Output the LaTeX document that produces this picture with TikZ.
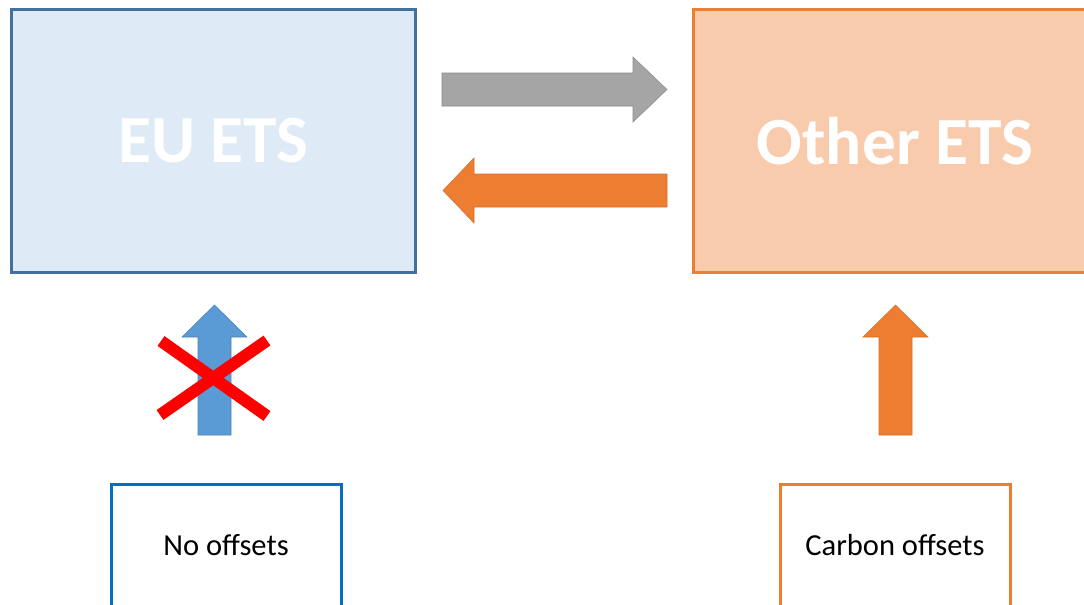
\documentclass[tikz,border=0pt]{standalone}
\usepackage{fontspec}
\setmainfont{Carlito}
\definecolor{eufill}{HTML}{DEEBF7}
\definecolor{euline}{HTML}{41719C}
\definecolor{orfill}{HTML}{F8CBAD}
\definecolor{orline}{HTML}{ED7D31}
\definecolor{grayarrow}{HTML}{A5A5A5}
\definecolor{bluearrow}{HTML}{5B9BD5}
\definecolor{offblue}{HTML}{0070C0}
\begin{document}
\begin{tikzpicture}[x=0.75pt,y=-0.75pt,
  bigbox/.style={rectangle,inner sep=0pt,line width=2.25pt,
    minimum width=404*0.75pt,minimum height=263*0.75pt,text=white,
    font=\bfseries\fontsize{50.6}{53}\selectfont},
  smallbox/.style={rectangle,inner sep=0pt,line width=2.25pt,fill=white,
    minimum width=230*0.75pt,minimum height=122*0.75pt,
    font=\fontsize{22.9}{25}\selectfont},
  blockarrow/.style={line width=0.4pt,line join=miter},
  crossline/.style={draw=red,line width=12*0.75pt}]
\useasboundingbox (0,0) rectangle (1084,604);
\fill[white] (0,0) rectangle (1084,604);
% main boxes
\node[bigbox,draw=euline,fill=eufill] (eu) at (213.5,141) {EU ETS};
\node[bigbox,draw=orline,fill=orfill] (oth) at (895,141) {Other ETS};
% lower boxes
\node[smallbox,draw=offblue] (nooff) at (226,545) {No offsets};
\node[smallbox,draw=orline] (carb) at (895,545) {Carbon offsets};
% horizontal block arrows
\filldraw[blockarrow,fill=grayarrow,draw=grayarrow!85!black]
  (442,73) -- (633,73) -- (633,57) -- (667,89.5) -- (633,122) -- (633,106) -- (442,106) -- cycle;
\filldraw[blockarrow,fill=orline,draw=orline!90!black]
  (667,174) -- (474,174) -- (474,158) -- (443,190.5) -- (474,223) -- (474,207) -- (667,207) -- cycle;
% vertical block arrows
\filldraw[blockarrow,fill=bluearrow,draw=bluearrow!85!black]
  (198,435) -- (198,337) -- (182,337) -- (214.5,305) -- (247,337) -- (231,337) -- (231,435) -- cycle;
\filldraw[blockarrow,fill=orline,draw=orline!90!black]
  (879,435) -- (879,337) -- (863,337) -- (895.5,305) -- (928,337) -- (912,337) -- (912,435) -- cycle;
% red cross
\coordinate (c1) at (161,341);
\coordinate (c2) at (267,416);
\coordinate (c3) at (160,415);
\coordinate (c4) at (267,340.5);
\draw[crossline] (c1) -- (c2);
\draw[crossline] (c3) -- (c4);
\end{tikzpicture}
\end{document}
